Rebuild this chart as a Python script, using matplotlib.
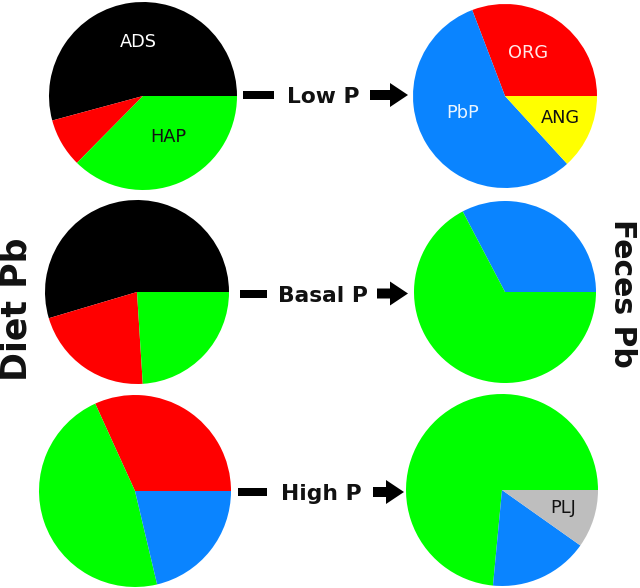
import matplotlib
matplotlib.use("Agg")
import matplotlib.pyplot as plt

W, H = 640, 588

# ---- data (percent shares) ----
diet_low = [54.2, 8.4, 37.4]
diet_low_colors = ["#000000", "#FF0000", "#00FF00"]
diet_low_labels = ["ADS", "", "HAP"]

feces_low = [30.8, 56.0, 13.2]
feces_low_colors = ["#FF0000", "#0A84FF", "#FFFF00"]
feces_low_labels = ["ORG", "PbP", "ANG"]

diet_basal = [54.6, 21.4, 24.0]
diet_basal_colors = ["#000000", "#FF0000", "#00FF00"]

feces_basal = [32.7, 67.3]
feces_basal_colors = ["#0A84FF", "#00FF00"]

diet_high = [31.8, 46.9, 21.3]
diet_high_colors = ["#FF0000", "#00FF00", "#0A84FF"]

feces_high = [73.5, 16.7, 9.8]
feces_high_colors = ["#00FF00", "#0A84FF", "#BEBEBE"]
feces_high_labels = ["", "", "PLJ"]

treatments = ["Low P", "Basal P", "High P"]

fig = plt.figure(figsize=(W / 100, H / 100), dpi=100)
ax = fig.add_axes([0, 0, 1, 1])


def Y(y):
    return H - y


pies = [
    (diet_low, diet_low_colors, (143, 96), 94),
    (feces_low, feces_low_colors, (505, 96), 92),
    (diet_basal, diet_basal_colors, (137, 292), 92),
    (feces_basal, feces_basal_colors, (505, 292), 91),
    (diet_high, diet_high_colors, (135, 491), 96),
    (feces_high, feces_high_colors, (502, 490), 96),
]
for vals, cols, (cx, cy), r in pies:
    ax.pie(vals, colors=cols, startangle=0, counterclock=True,
           center=(cx, Y(cy)), radius=r, frame=False,
           wedgeprops=dict(linewidth=0, antialiased=True))

# wedge labels
lab_fs = 12.8
ax.text(138, Y(42), diet_low_labels[0], color="white", fontsize=lab_fs, ha="center", va="center")
ax.text(168, Y(137), diet_low_labels[2], color="#111111", fontsize=lab_fs, ha="center", va="center")
ax.text(528, Y(53), feces_low_labels[0], color="#FFE8E8", fontsize=lab_fs, ha="center", va="center")
ax.text(463, Y(113), feces_low_labels[1], color="#E8F4FF", fontsize=lab_fs, ha="center", va="center")
ax.text(560, Y(118), feces_low_labels[2], color="#111111", fontsize=lab_fs, ha="center", va="center")
ax.text(563, Y(508), feces_high_labels[2], color="#111111", fontsize=lab_fs, ha="center", va="center")

# treatment arrows
rows = [
    (95, 243, 274, 370, 408),
    (293.5, 240, 267, 377, 408),
    (492, 238, 267, 373, 404),
]
for name, (yy, d0, d1, a0, a1) in zip(treatments, rows):
    ax.plot([d0, d1], [Y(yy), Y(yy)], color="black", linewidth=8 * 72 / 100,
            solid_capstyle="butt")
    ax.text((d1 + a0) / 2 + 1, Y(yy), name, fontsize=15.7, fontweight="bold",
            ha="center", va="center_baseline", color="#111111")
    ax.arrow(a0, Y(yy), a1 - a0, 0, width=10, head_width=24, head_length=18,
             length_includes_head=True, color="black", linewidth=0)

ax.text(17, Y(309), "Diet Pb", rotation=90, fontsize=25, fontweight="bold",
        ha="center", va="center", color="#111111")
ax.text(622, Y(293), "Feces Pb", rotation=270, fontsize=21.5, fontweight="bold",
        ha="center", va="center", color="#111111")

ax.set_xlim(0, W)
ax.set_ylim(0, H)
ax.set_aspect("auto")
ax.axis("off")
fig.savefig("out.png", dpi=100)
